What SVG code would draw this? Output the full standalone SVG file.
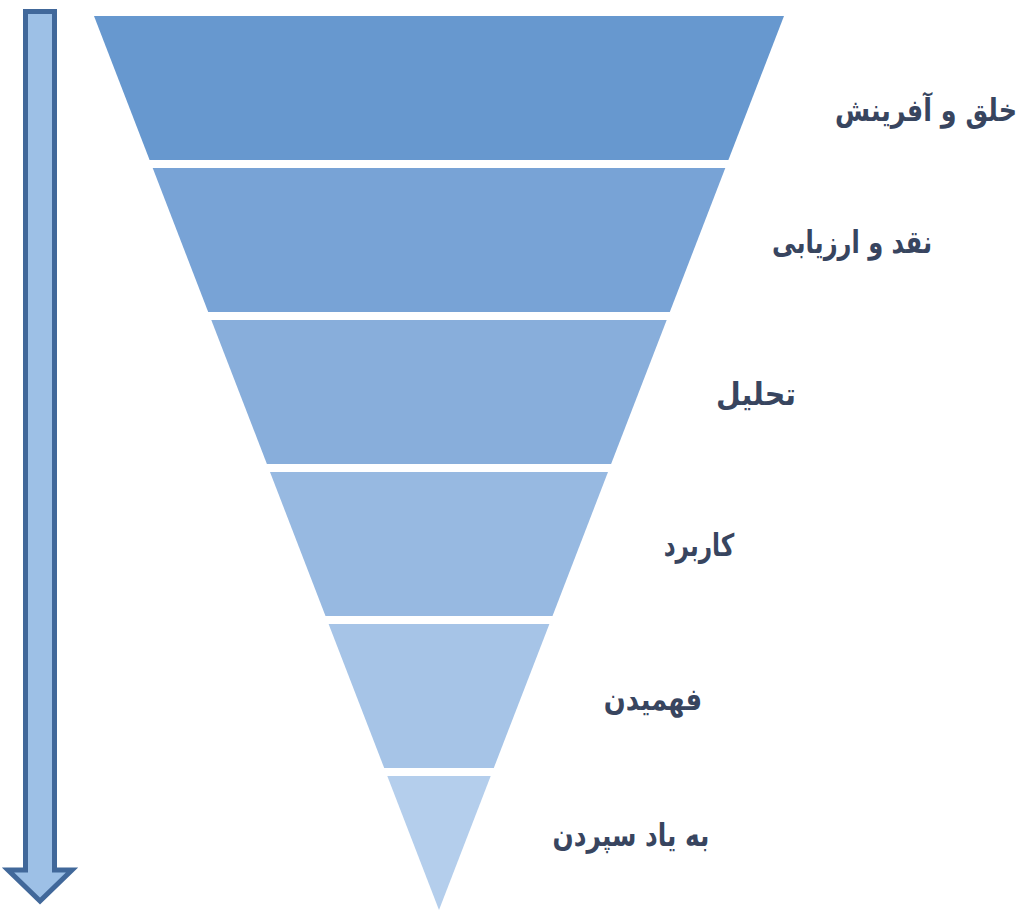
<svg xmlns="http://www.w3.org/2000/svg" width="1026" height="912" viewBox="0 0 1026 912">
<style>
.lbl{font-family:"DejaVu Sans","Noto Sans",sans-serif;font-weight:bold;font-size:31px;fill:#38455F;text-anchor:middle}
.arrow{fill:#9DC0E6;stroke:#41689A;stroke-width:5;stroke-linejoin:miter}
</style>
<rect width="1026" height="912" fill="#FFFFFF"/>
<g id="connectors">
<path class="arrow" d="M25.5,11.5 L54.5,11.5 L54.5,870 L72,870 L40,901 L8,870 L25.5,870 Z"/>
</g>
<g id="level1"><polygon points="94,16 784,16 728.4,160 149.6,160" fill="#6798CF"/><text class="lbl" transform="translate(926 121) scale(0.82 1)" x="0" y="0">خلق و آفرینش</text></g>
<g id="level2"><polygon points="152.7,168 725.3,168 669.8,312 208.2,312" fill="#78A3D6"/><text class="lbl" transform="translate(852 253) scale(0.78 1)" x="0" y="0">نقد و ارزیابی</text></g>
<g id="level3"><polygon points="211.3,320 666.7,320 611.1,464 266.9,464" fill="#88AEDB"/><text class="lbl" transform="translate(756 405) scale(0.92 1)" x="0" y="0">تحلیل</text></g>
<g id="level4"><polygon points="270,472 608,472 552.5,616 325.5,616" fill="#97B9E1"/><text class="lbl" transform="translate(699 556) scale(0.75 1)" x="0" y="0">کاربرد</text></g>
<g id="level5"><polygon points="328.6,624 549.4,624 493.8,768 384.2,768" fill="#A6C4E7"/><text class="lbl" transform="translate(653 710) scale(0.83 1)" x="0" y="0">فهمیدن</text></g>
<g id="level6"><polygon points="387.3,776 490.7,776 439,910" fill="#B4CEEC"/><text class="lbl" transform="translate(631 846) scale(0.80 1)" x="0" y="0">به یاد سپردن</text></g>
</svg>
